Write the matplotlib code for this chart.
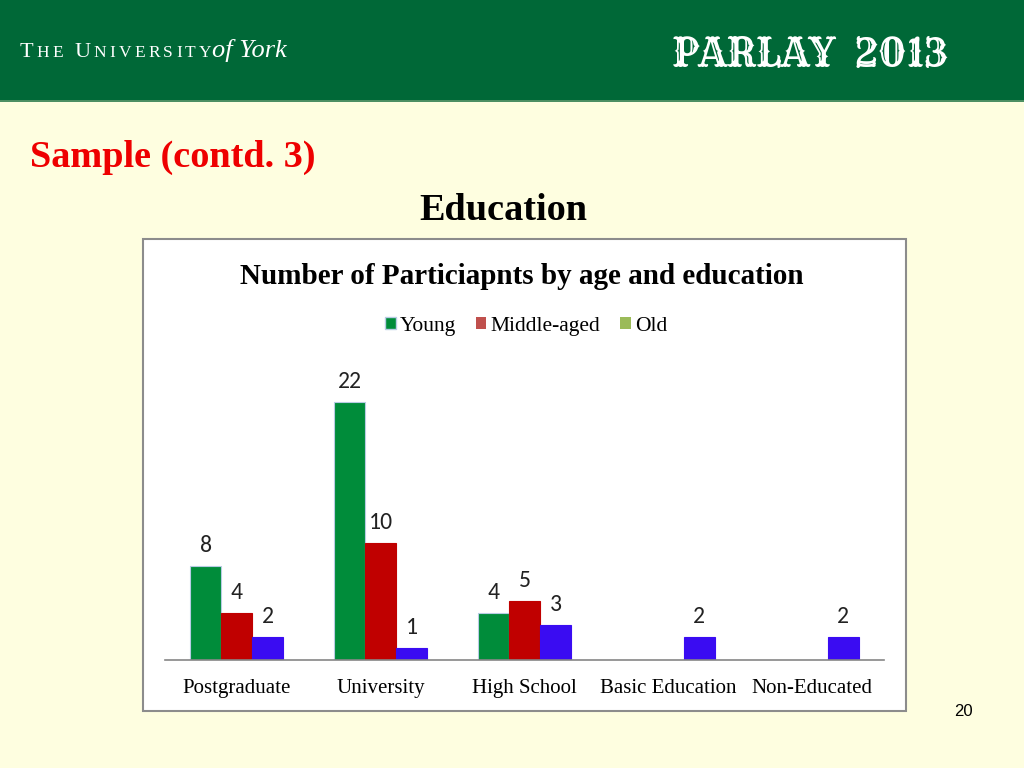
import matplotlib.pyplot as plt
from matplotlib.patches import Rectangle, Patch
import numpy as np

# data
categories = ['Postgraduate', 'University', 'High School', 'Basic Education', 'Non-Educated']
young = [8, 22, 4, 0, 0]
middle = [4, 10, 5, 0, 0]
old = [2, 1, 3, 2, 2]

W, H = 1024, 768
fig = plt.figure(figsize=(W / 100, H / 100), dpi=100)
fig.patch.set_facecolor('#FEFEE0')

def fy(px):
    return 1 - px / H

def fx(px):
    return px / W

serif = 'Liberation Serif'

# header band
fig.patches.append(Rectangle((0, fy(100)), 1, 100 / H, transform=fig.transFigure,
                             facecolor='#006837', edgecolor='none', zorder=0))
fig.patches.append(Rectangle((0, fy(102)), 1, 2 / H, transform=fig.transFigure,
                             facecolor='#4C8F63', edgecolor='none', zorder=0))

# logo text, small caps with letter spacing
renderer = fig.canvas.get_renderer()
cur = 20
for word in ['THE', 'UNIVERSITY']:
    for j, ch in enumerate(word):
        size = 16 if j == 0 else 12.5
        t = fig.text(fx(cur), fy(57), ch, color='white', family=serif, fontsize=size,
                     va='baseline')
        cur += t.get_window_extent(renderer).width + 3.2
    cur += 8
fig.text(fx(212), fy(57), 'of York', color='white', family=serif,
         style='italic', fontsize=19, va='baseline')
fig.text(fx(810), fy(56), 'PARLAY  2013', color='white', family=['Rye', 'DejaVu Serif'],
         fontsize=28, ha='center', va='center')

# slide titles
fig.text(fx(30), fy(157), 'Sample (contd. 3)', color='#EE0000', family=serif,
         fontweight='bold', fontsize=27.5, va='center')
fig.text(fx(503), fy(210), 'Education', color='black', family=serif,
         fontweight='bold', fontsize=27.5, ha='center', va='center')
fig.text(fx(963), fy(711), '20', color='black', family='Liberation Sans',
         fontsize=12, ha='center', va='center')

# chart box
fig.patches.append(Rectangle((fx(143), fy(711)), (906 - 143) / W, (711 - 239) / H,
                             transform=fig.transFigure, facecolor='white',
                             edgecolor='#8C8C8C', linewidth=1.5, zorder=0.5))
fig.text(fx(522), fy(276), 'Number of Particiapnts by age and education', color='black',
         family=serif, fontweight='bold', fontsize=21, ha='center', va='center')

ax = fig.add_axes([fx(165), fy(660), (884 - 165) / W, (660 - 355) / H])
ax.set_zorder(2)
ax.set_facecolor('none')
x = np.arange(len(categories))
bw = 0.216
series = [(young, '#008C3A', '#B8CCE4'), (middle, '#C00000', '#C00000'), (old, '#3A0CF2', '#3A0CF2')]
for i, (vals, col, ec) in enumerate(series):
    pos = x + (i - 1) * bw
    for p, v in zip(pos, vals):
        if v == 0:
            continue
        ax.bar(p, v, width=bw, color=col, edgecolor=ec, linewidth=0.8)
        ax.text(p, v + 0.85, str(v), ha='center', va='bottom', fontsize=17,
                family='Carlito', color='#222222')

ax.set_xlim(-0.5, len(categories) - 0.5)
ax.set_ylim(0, 26)
ax.set_yticks([])
ax.set_xticks(x)
ax.set_xticklabels(categories, family=serif, fontsize=15)
ax.tick_params(axis='x', length=0, pad=14)
for s in ['top', 'left', 'right']:
    ax.spines[s].set_visible(False)
ax.spines['bottom'].set_color('#868686')
ax.spines['bottom'].set_linewidth(1.2)

handles = [Patch(facecolor='#008C3A', edgecolor='#B8CCE4', label='Young'),
           Patch(facecolor='#C0504D', label='Middle-aged'),
           Patch(facecolor='#9BBB59', label='Old')]
leg = fig.legend(handles=handles, loc='center', bbox_to_anchor=(fx(526), fy(326)), ncol=3,
                 frameon=False, prop={'family': serif, 'size': 15.5},
                 handlelength=0.5, handleheight=0.5, handletextpad=0.2, columnspacing=0.9)
leg.set_zorder(3)

fig.savefig('out.png', dpi=100, facecolor=fig.get_facecolor())
